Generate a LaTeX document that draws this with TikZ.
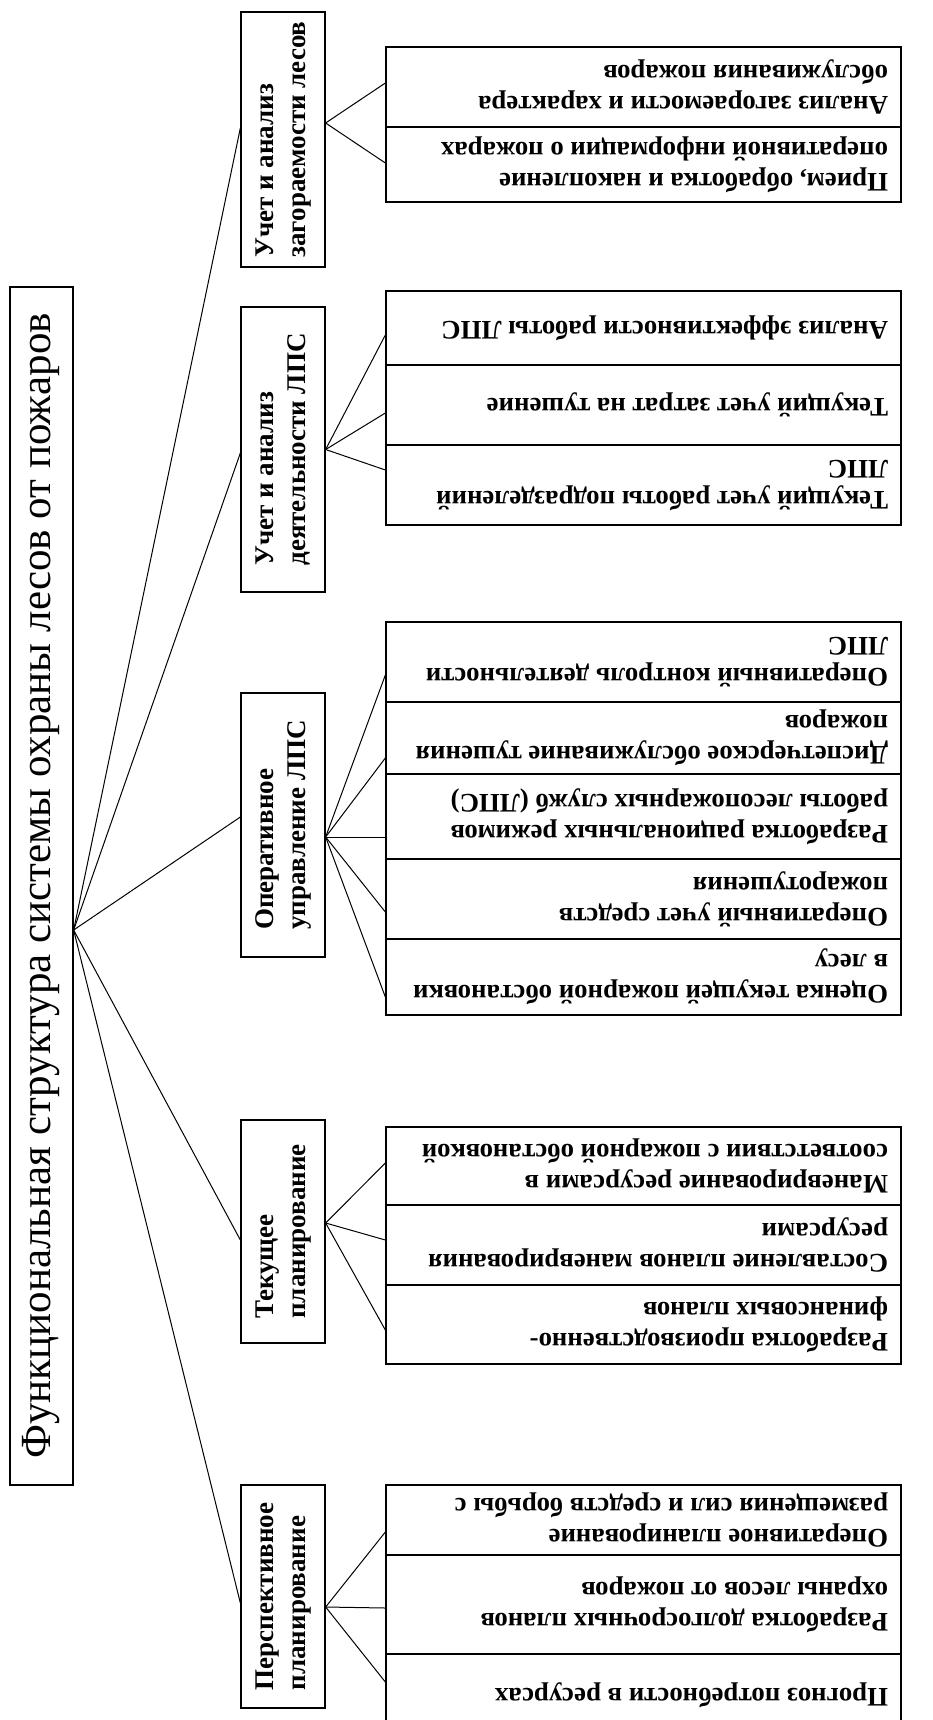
\documentclass[tikz,border=0pt]{standalone}
\usepackage{fontspec}
\setmainfont{Liberation Serif}
\usepackage{graphicx}
\usetikzlibrary{calc}
\tikzset{
  l1box/.style={draw, line width=1.3pt, inner sep=0pt, minimum width=63pt, minimum height=1198pt, font=\fontsize{43}{47}\selectfont},
  l2box/.style={draw, line width=1.3pt, inner sep=0pt, minimum width=84pt, font=\bfseries\fontsize{27}{32}\selectfont},
  l3box/.style={draw, line width=1.3pt, inner xsep=13pt, inner ysep=0pt, minimum width=515pt, font=\bfseries\fontsize{26.8}{31}\selectfont},
  link/.style={line width=1pt}
}
\newcommand{\vtxt}[1]{\rotatebox{90}{\begin{tabular}{@{}l@{}}#1\end{tabular}}}
\newcommand{\utxt}[1]{\rotatebox{180}{\parbox{489pt}{\raggedright #1}}}
\begin{document}
\begin{tikzpicture}[x=1pt,y=-1pt]
\useasboundingbox (0,0) rectangle (933,1720);
\clip (0,0) rectangle (933,1720);
% root
\node[l1box] (root) at (41.5,886) {\rotatebox{90}{Функциональная структура системы охраны лесов от пожаров}};
% level 2
\node[l2box, minimum height=255pt] (L2a) at (283,139.5) {\vtxt{Учет и анализ\\загораемости лесов}};
\node[l2box, minimum height=285pt] (L2b) at (283,449.5) {\vtxt{Учет и анализ\\деятельности ЛПС}};
\node[l2box, minimum height=264pt] (L2c) at (283,825) {\vtxt{Оперативное\\управление ЛПС}};
\node[l2box, minimum height=223pt] (L2d) at (283,1231.5) {\vtxt{Текущее\\планирование}};
\node[l2box, minimum height=223pt] (L2e) at (283,1596.5) {\vtxt{Перспективное\\планирование}};
% level 3
\node[l3box, minimum height=80pt] (A1) at (643.5,87) {\utxt{Анализ загораемости и характера\\обслуживания пожаров}};
\node[l3box, minimum height=75pt] (A2) at (643.5,164.5) {\utxt{Прием, обработка и накопление\\оперативной информации о пожарах}};
\node[l3box, minimum height=74pt] (B1) at (643.5,328) {\utxt{Анализ эффективности работы ЛПС}};
\node[l3box, minimum height=80pt] (B2) at (643.5,405) {\utxt{Текущий учет затрат на тушение}};
\node[l3box, minimum height=80pt] (B3) at (643.5,485) {\utxt{Текущий учет работы подразделений\\ЛПС}};
\node[l3box, minimum height=80pt] (C1) at (643.5,662) {\utxt{Оперативный контроль деятельности\\ЛПС}};
\node[l3box, minimum height=72pt] (C2) at (643.5,738) {\utxt{Диспетчерское обслуживание тушения\\пожаров}};
\node[l3box, minimum height=85pt] (C3) at (643.5,816.5) {\utxt{Разработка рациональных режимов\\работы лесопожарных служб (ЛПС)}};
\node[l3box, minimum height=80pt] (C4) at (643.5,899) {\utxt{Оперативный учет средств\\пожаротушения}};
\node[l3box, minimum height=76pt] (C5) at (643.5,977) {\utxt{Оценка текущей пожарной обстановки\\в лесу}};
\node[l3box, minimum height=78pt] (D1) at (643.5,1166) {\utxt{Маневрирование ресурсами в\\соответствии с пожарной обстановкой}};
\node[l3box, minimum height=80pt] (D2) at (643.5,1245) {\utxt{Составление планов маневрирования\\ресурсами}};
\node[l3box, minimum height=79pt] (D3) at (643.5,1324.5) {\utxt{Разработка производственно-\\финансовых планов}};
\node[l3box, minimum height=70pt] (E1) at (643.5,1520) {\utxt{Оперативное планирование\\размещения сил и средств борьбы с}};
\node[l3box, minimum height=99pt] (E2) at (643.5,1604.5) {\utxt{Разработка долгосрочных планов\\охраны лесов от пожаров}};
\node[l3box, minimum height=82pt] (E3) at (643.5,1695) {\utxt{Прогноз потребности в ресурсах}};
% hubs
\coordinate (hR) at ([yshift=-44pt]root.east);
\coordinate (hA) at ([yshift=16.5pt]L2a.east);
\coordinate (hB) at (L2b.east);
\coordinate (hC) at ([yshift=-12pt]L2c.east);
\coordinate (hD) at ([yshift=8.5pt]L2d.east);
\coordinate (hE) at ([yshift=-10.5pt]L2e.east);
% root links
\draw[link] (hR) -- ([yshift=11.5pt]L2a.west);
\draw[link] (hR) -- ([yshift=-3.5pt]L2b.west);
\draw[link] (hR) -- ([yshift=8pt]L2c.west);
\draw[link] (hR) -- ([yshift=-8.5pt]L2d.west);
\draw[link] (hR) -- ([yshift=-6.5pt]L2e.west);
% level 3 links
\draw[link] (hA) -- ([yshift=4pt]A1.west);
\draw[link] (hA) -- ([yshift=1.5pt]A2.west);
\draw[link] (hB) -- ([yshift=-7pt]B1.west);
\draw[link] (hB) -- ([yshift=-8pt]B2.west);
\draw[link] (hB) -- ([yshift=15pt]B3.west);
\draw[link] (hC) -- ([yshift=-13pt]C1.west);
\draw[link] (hC) -- ([yshift=-20pt]C2.west);
\draw[link] (hC) -- ([yshift=-20.5pt]C3.west);
\draw[link] (hC) -- ([yshift=-13pt]C4.west);
\draw[link] (hC) -- ([yshift=-20pt]C5.west);
\draw[link] (hD) -- ([yshift=3pt]D1.west);
\draw[link] (hD) -- ([yshift=5pt]D2.west);
\draw[link] (hD) -- ([yshift=-5.5pt]D3.west);
\draw[link] (hE) -- ([yshift=-12pt]E1.west);
\draw[link] (hE) -- ([yshift=-3.5pt]E2.west);
\draw[link] (hE) -- ([yshift=13pt]E3.west);
\end{tikzpicture}
\end{document}
